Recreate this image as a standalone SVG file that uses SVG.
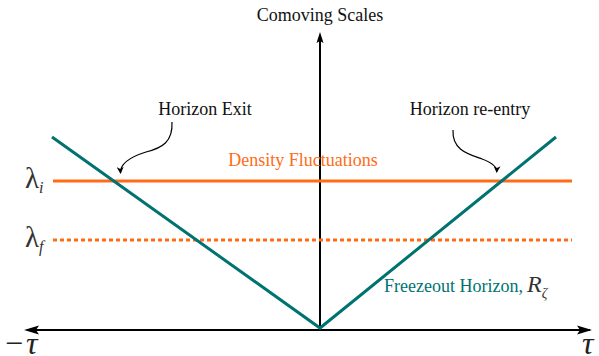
<svg xmlns="http://www.w3.org/2000/svg" width="599" height="356" viewBox="0 0 599 356">
<style>
.serif{font-family:"Liberation Serif","DejaVu Serif",serif}
.lbl{font-size:18px;fill:#111}
.teal{stroke:#007370;stroke-width:3;fill:none}
.orange{stroke:#ff6b17;stroke-width:3;fill:none}
.axis{stroke:#000;stroke-width:2;fill:none}
.thin{stroke:#000;stroke-width:1.2;fill:none}
</style>
<defs>
<marker id="ahs" markerWidth="7" markerHeight="7" refX="6" refY="3.5" orient="auto" markerUnits="userSpaceOnUse">
<path d="M0,0 L7,3.5 L0,7 L2,3.5 z" fill="#000"/>
</marker>
</defs>
<g id="connectors">
<line class="axis" x1="30" y1="330" x2="590" y2="330"/>
<path d="M39,325.5 L24,330 L39,334.5 L36,330 z" fill="#000"/>
<path d="M577,325.5 L592,330 L577,334.5 L580,330 z" fill="#000"/>
<line class="axis" x1="320" y1="330" x2="320" y2="40"/>
<path d="M316.5,43 L320,32 L323.5,43 L320,41 z" fill="#000"/>
<line class="orange" x1="53" y1="181" x2="572" y2="181"/>
<line class="orange" x1="53" y1="240" x2="572" y2="240" stroke-width="2" stroke-dasharray="4,3"/>
<polyline class="teal" points="52,137 320,328 556,137"/>
<path class="thin" d="M172,122 C173,142 162,148 146,152 C130,157 120,164 120.5,173" marker-end="url(#ahs)"/>
<path class="thin" d="M453,130 C452,150 468,154 482,159 C493,163 497,167 496.7,172" marker-end="url(#ahs)"/>
</g>
<g id="title"><text class="serif lbl" x="320" y="21" text-anchor="middle" font-size="16.5">Comoving Scales</text></g>
<g id="exit"><text class="serif lbl" x="205" y="115" text-anchor="middle">Horizon Exit</text></g>
<g id="reentry"><text class="serif lbl" x="470" y="115" text-anchor="middle">Horizon re-entry</text></g>
<g id="density"><text class="serif" font-size="18" fill="#ff6b17" x="303" y="166" text-anchor="middle">Density Fluctuations</text></g>
<g id="freezeout"><text class="serif" font-size="18" fill="#007370" x="384" y="292">Freezeout Horizon, <tspan font-style="italic" font-size="24" fill="#333" x="527">R</tspan><tspan font-style="italic" font-size="14" fill="#333" dy="6">ζ</tspan></text></g>
<g id="lambda-i"><text class="serif" font-size="29" fill="#333" x="25" y="188">λ<tspan font-style="italic" font-size="16" dy="5">i</tspan></text></g>
<g id="lambda-f"><text class="serif" font-size="29" fill="#333" x="25" y="247">λ<tspan font-style="italic" font-size="16" dy="5">f</tspan></text></g>
<g id="minus-tau"><text class="serif" font-size="32" fill="#222" x="5" y="354">−<tspan font-style="italic" dx="3">τ</tspan></text></g>
<g id="tau"><text class="serif" font-size="32" fill="#222" font-style="italic" x="582" y="354">τ</text></g>
</svg>
